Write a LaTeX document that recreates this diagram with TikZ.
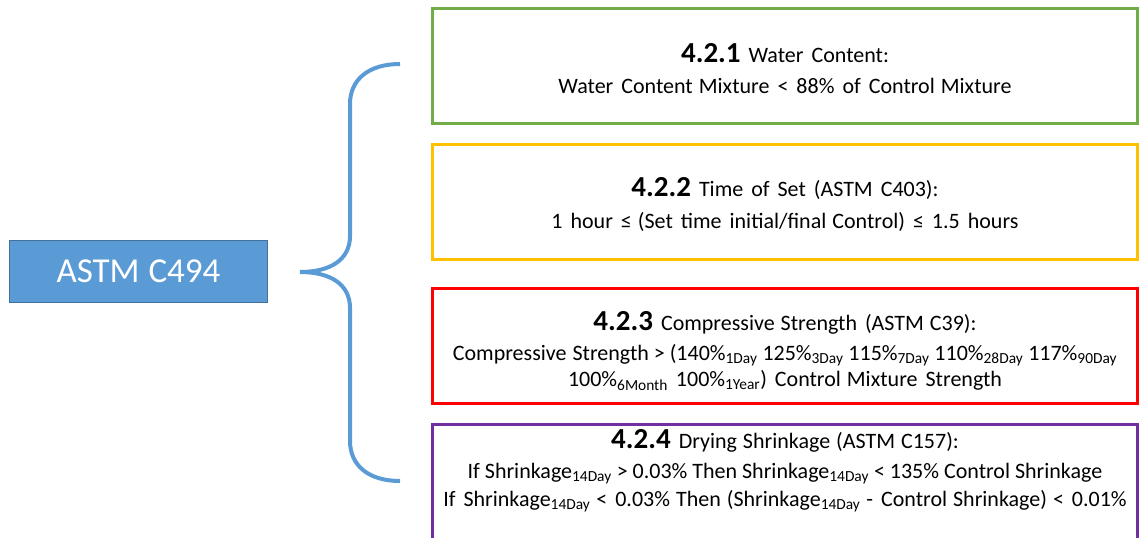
\documentclass[tikz,border=0pt]{standalone}
\usepackage{fontspec}
\setmainfont{Carlito}
\usetikzlibrary{positioning}
\definecolor{stdblue}{HTML}{5B9BD5}
\definecolor{stdedge}{HTML}{41719C}
\definecolor{reqgreen}{HTML}{70AD47}
\definecolor{reqyellow}{HTML}{FFC000}
\definecolor{reqred}{HTML}{FF0000}
\definecolor{reqpurple}{HTML}{7030A0}
\newcommand{\clause}[1]{{\fontsize{29}{30}\selectfont\bfseries #1}}
\newcommand{\lowtxt}[1]{\textsubscript{#1}}
\newcommand{\gap}{\hspace{6pt}}
\newcommand{\widesp}{\spaceskip=8pt\relax}
\newcommand{\normsp}{\spaceskip=0pt\relax}
\newcommand{\topstrut}[1]{\rule{0pt}{#1pt}}
\newcommand{\botstrut}[1]{\rule[-#1pt]{0pt}{#1pt}}
\tikzstyle{reqbox}=[draw, line width=3pt, minimum width=705pt, minimum height=115pt,
  align=center, inner sep=0pt, font=\fontsize{22}{30}\selectfont\widesp]

\begin{document}
\begin{tikzpicture}[x=1pt, y=-1pt, node distance=18pt]
  \useasboundingbox (0,0) rectangle (1143,538);
  \node[fill=stdblue, draw=stdedge, line width=1pt, minimum width=258pt, minimum height=62pt,
        text=white, font=\fontsize{35}{36}\selectfont] (std) at (138.5,271.5) {ASTM\hspace{9pt}C494};
  \node[reqbox, draw=reqgreen] (wc) at (785,66)
    {\topstrut{29.5}\clause{4.2.1} Water Content:\\[0.5pt]
     Water Content\gap Mixture < 88\% of Control\gap Mixture\botstrut{6}};
  \node[reqbox, draw=reqyellow, below=of wc] (ts)
    {\topstrut{27}\clause{4.2.2} Time of Set (ASTM C403):\\[2pt]
     1 hour ≤\gap (Set time initial/final\gap Control) ≤ 1.5 hours\botstrut{6}};
  \node[reqbox, draw=reqred, below=26pt of ts] (cs)
    {\topstrut{31}\clause{4.2.3} Compressive\gap Strength (ASTM\gap C39):\\
     {\normsp Compressive\gap Strength > (140\%\lowtxt{1Day} 125\%\lowtxt{3Day} 115\%\lowtxt{7Day} 110\%\lowtxt{28Day} 117\%\lowtxt{90Day}}\\[-4pt]
     100\%\lowtxt{6Month} 100\%\lowtxt{1Year}) Control\gap Mixture Strength\botstrut{6}};
  \node[reqbox, draw=reqpurple, below=of cs] (ds)
    {\topstrut{20}\clause{4.2.4} Drying\gap Shrinkage\gap (ASTM\gap C157):\\
     {\normsp If Shrinkage\lowtxt{14Day} > 0.03\% Then Shrinkage\lowtxt{14Day} < 135\% Control Shrinkage}\\[-2pt]
     If Shrinkage\lowtxt{14Day}\gap < 0.03\%\gap Then\gap (Shrinkage\lowtxt{14Day}\gap - Control\gap Shrinkage)\gap < 0.01\%\botstrut{29}};
  \coordinate (brtop) at (400,64);
  \coordinate (brtip) at (300,272);
  \coordinate (brbot) at (400,481);
  \draw[stdblue, line width=4pt]
    (brtop) .. controls (368,64) and (350,80) .. (350,104) -- (350,236)
            .. controls (350,260) and (330,272) .. (brtip)
            .. controls (330,272) and (350,284) .. (350,308) -- (350,441)
            .. controls (350,465) and (368,481) .. (brbot);
\end{tikzpicture}
\end{document}
